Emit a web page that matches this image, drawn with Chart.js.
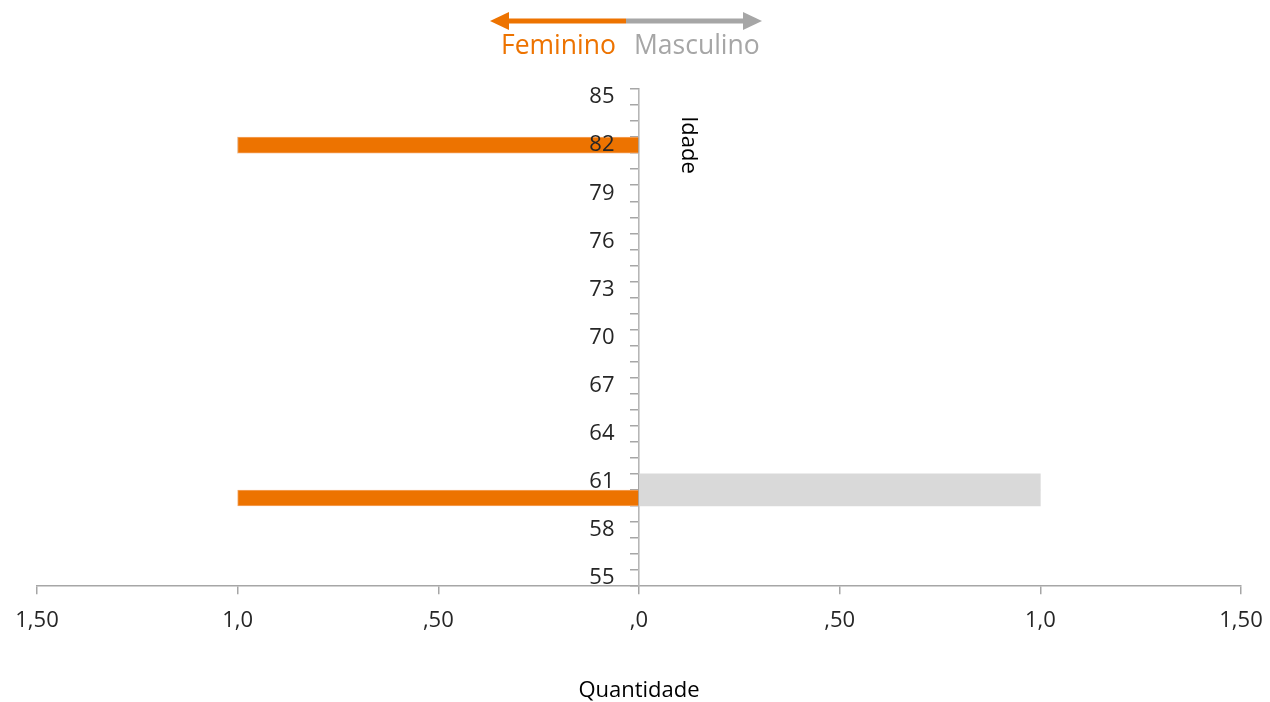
<!DOCTYPE html>
<html lang="pt">
<head>
<meta charset="UTF-8">
<title>Idade por sexo</title>
<script src="https://cdn.jsdelivr.net/npm/chart.js"></script>
<style>
  body { margin: 0; padding: 0; background: #fff; }
  #wrap { position: relative; width: 1270px; height: 702px; }
  #legend { position: absolute; left: 0; top: 0; }
  #legend text { font-family: 'Open Sans', sans-serif; font-size: 26.5px; }
</style>
</head>
<body>
<div id="wrap">
  <canvas id="chart" width="1270" height="702"></canvas>
  <svg id="legend" width="1270" height="70">
    <line x1="506" y1="21" x2="626" y2="21" stroke="#ED7300" stroke-width="5"/>
    <polygon points="490,21 509,12 509,30" fill="#ED7300"/>
    <line x1="626" y1="21" x2="746" y2="21" stroke="#A6A6A6" stroke-width="5"/>
    <polygon points="762,21 743,12 743,30" fill="#A6A6A6"/>
    <text x="501" y="54" fill="#ED7300">Feminino</text>
    <text x="634" y="54" fill="#A6A6A6">Masculino</text>
  </svg>
</div>
<script>
// idades 55..85 (de baixo para cima)
const ages = ['55','56','57','58','59','60','61','62','63','64','65','66','67','68','69','70',
              '71','72','73','74','75','76','77','78','79','80','81','82','83','84','85'];
const feminino = [0,0,0,0,0,-1,0,0,0,0,0,0,0,0,0,0,
                  0,0,0,0,0,0,0,0,0,0,0,-1,0,0,0];
const masculino = [0,0,0,0,0,1,1,0,0,0,0,0,0,0,0,0,
                   0,0,0,0,0,0,0,0,0,0,0,0,0,0,0];
const xTickLabels = ['1,50','1,0',',50',',0',',50','1,0','1,50'];

const axisGrey = '#A6A6A6';
const tickFont = { family: "'Open Sans', sans-serif", size: 22 };

const idadeTitle = {
  id: 'idadeTitle',
  afterDraw(chart) {
    const ctx = chart.ctx;
    ctx.save();
    ctx.translate(688, 145);
    ctx.rotate(Math.PI / 2);
    ctx.font = "22px 'Open Sans', sans-serif";
    ctx.fillStyle = '#000';
    ctx.textAlign = 'center';
    ctx.textBaseline = 'middle';
    ctx.fillText('Idade', 0, 0);
    ctx.restore();
  }
};

new Chart(document.getElementById('chart'), {
  type: 'bar',
  data: {
    labels: ages,
    datasets: [
      { label: 'Feminino', data: feminino, backgroundColor: '#ED7300', borderColor: '#F4A561', borderWidth: 1 },
      { label: 'Masculino', data: masculino, backgroundColor: '#D9D9D9', borderWidth: 0 }
    ]
  },
  options: {
    indexAxis: 'y',
    responsive: false,
    animation: false,
    layout: { padding: { left: 37, right: 29, top: 89, bottom: 0 } },
    datasets: { bar: { barPercentage: 1, categoryPercentage: 1 } },
    plugins: { legend: { display: false }, tooltip: { enabled: false } },
    scales: {
      x: {
        type: 'linear', min: -1.5, max: 1.5, stacked: true,
        // the layout padding alone decides where the plot area ends
        afterFit: s => { s.paddingLeft = 0; s.paddingRight = 0; },
        ticks: {
          stepSize: 0.5, padding: 13, font: tickFont, color: '#262626',
          callback: (v, i) => xTickLabels[i]
        },
        grid: { drawOnChartArea: false, tickLength: 8, color: axisGrey, lineWidth: 1.5 },
        border: { color: axisGrey, width: 1.5 },
        title: {
          display: true, text: 'Quantidade', color: '#000',
          font: { family: "'Open Sans', sans-serif", size: 22 },
          padding: { top: 31, bottom: -2 }
        }
      },
      // eixo das idades: linha e marcas em x = 0
      y: {
        type: 'category', reverse: true, stacked: true, offset: true,
        position: { x: 0 },
        ticks: { display: false },
        grid: { drawOnChartArea: false, offset: true, tickLength: 8, color: axisGrey, lineWidth: 1.5 },
        border: { color: axisGrey, width: 1.5 }
      },
      // rótulos das idades, um pouco à esquerda do eixo
      yLabels: {
        axis: 'y', type: 'category', reverse: true, offset: true,
        position: { x: -0.061 },
        grid: { display: false, offset: true },
        border: { display: false },
        ticks: {
          autoSkip: false, z: 1, font: tickFont, color: '#262626',
          callback: function (v, i) { return i % 3 === 0 ? this.getLabelForValue(v) : ''; }
        }
      }
    }
  },
  plugins: [idadeTitle]
});
</script>
</body>
</html>
